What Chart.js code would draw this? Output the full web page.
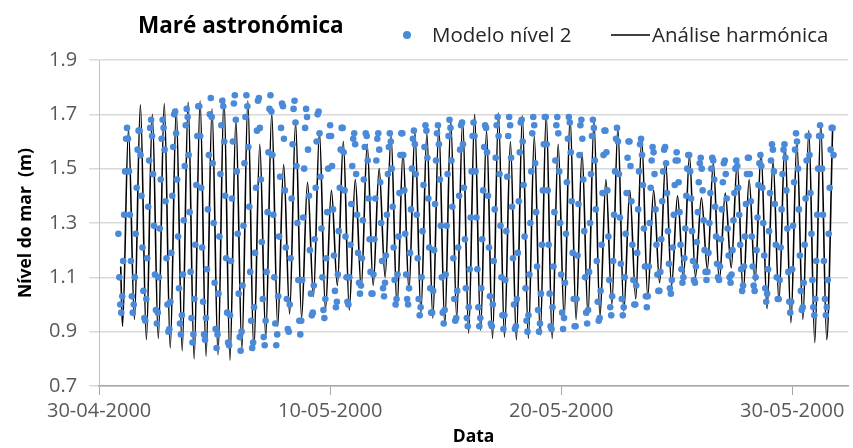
<!DOCTYPE html>
<html>
<head>
<meta charset="utf-8">
<title>Maré astronómica</title>
<script src="https://cdn.jsdelivr.net/npm/chart.js@4.4.1/dist/chart.umd.min.js"></script>
<style>
  html, body { margin: 0; padding: 0; background: #fff; }
  #wrap { width: 853px; height: 448px; }
</style>
</head>
<body>
<div id="wrap"><canvas id="tideChart" width="853" height="448"></canvas></div>
<script>
// Texts
const chartTitle = 'Maré astronómica';
const seriesNames = ['Modelo nível 2', 'Análise harmónica'];
const xTitle = 'Data';
const yTitle = 'Nível do mar  (m)';

// Axis ticks (x in hours since 30-04-2000 00:00)
const dateTickHours = [0, 240, 480, 720];
const dateTickLabels = ['30-04-2000', '10-05-2000', '20-05-2000', '30-05-2000'];
const levelTicks = [0.7, 0.9, 1.1, 1.3, 1.5, 1.7, 1.9];

// Modelo nível 2: hourly levels (m), first value at hour 20, one row per day
const modelStartHour = 20;
const modelLevels = [
  1.26, 1.10, 1.00, 0.97, 1.03, 1.16, 1.33, 1.49, 1.61, 1.65, 1.61, 1.49, 1.33, 1.16, 1.03, 0.97, 1.00, 1.10, 1.26, 1.43, 1.57, 1.64, 1.64, 1.55,
  1.40, 1.21, 1.05, 0.95, 0.94, 1.02, 1.17, 1.36, 1.53, 1.65, 1.68, 1.62, 1.48, 1.29, 1.11, 0.98, 0.93, 0.97, 1.10, 1.28, 1.46, 1.61, 1.68, 1.65,
  1.57, 1.38, 1.17, 1.00, 0.90, 0.91, 1.01, 1.19, 1.40, 1.58, 1.70, 1.71, 1.63, 1.46, 1.25, 1.06, 0.93, 0.89, 0.96, 1.11, 1.31, 1.51, 1.66, 1.72,
  1.69, 1.55, 1.34, 1.12, 0.95, 0.86, 0.89, 1.02, 1.22, 1.44, 1.62, 1.73, 1.73, 1.62, 1.43, 1.21, 1.01, 0.89, 0.87, 0.95, 1.13, 1.35, 1.55, 1.70,
  1.76, 1.69, 1.52, 1.30, 1.08, 0.91, 0.84, 0.89, 1.04, 1.25, 1.48, 1.66, 1.75, 1.73, 1.60, 1.40, 1.17, 0.97, 0.86, 0.85, 0.96, 1.16, 1.39, 1.60,
  1.74, 1.77, 1.68, 1.49, 1.26, 1.04, 0.88, 0.83, 0.90, 1.07, 1.29, 1.52, 1.69, 1.77, 1.73, 1.58, 1.36, 1.12, 0.94, 0.84, 0.86, 0.99, 1.19, 1.43,
  1.64, 1.75, 1.76, 1.65, 1.46, 1.23, 1.02, 0.88, 0.85, 0.94, 1.12, 1.34, 1.56, 1.72, 1.77, 1.71, 1.55, 1.33, 1.10, 0.93, 0.85, 0.89, 1.03, 1.25,
  1.47, 1.65, 1.74, 1.73, 1.61, 1.42, 1.21, 1.02, 0.91, 0.90, 1.00, 1.17, 1.39, 1.59, 1.72, 1.75, 1.67, 1.51, 1.30, 1.09, 0.94, 0.89, 0.94, 1.09,
  1.32, 1.50, 1.65, 1.72, 1.69, 1.57, 1.40, 1.20, 1.04, 0.96, 0.97, 1.07, 1.24, 1.43, 1.60, 1.70, 1.71, 1.63, 1.47, 1.28, 1.10, 0.98, 0.95, 1.02,
  1.17, 1.34, 1.50, 1.62, 1.66, 1.62, 1.51, 1.35, 1.18, 1.05, 0.99, 1.01, 1.11, 1.27, 1.43, 1.57, 1.65, 1.65, 1.56, 1.42, 1.25, 1.10, 1.01, 1.00,
  1.10, 1.22, 1.37, 1.51, 1.61, 1.63, 1.59, 1.48, 1.33, 1.19, 1.08, 1.04, 1.07, 1.17, 1.31, 1.46, 1.58, 1.63, 1.62, 1.53, 1.39, 1.24, 1.12, 1.04,
  1.04, 1.11, 1.24, 1.39, 1.53, 1.61, 1.63, 1.57, 1.45, 1.30, 1.16, 1.06, 1.03, 1.08, 1.18, 1.33, 1.48, 1.58, 1.63, 1.60, 1.50, 1.36, 1.21, 1.09,
  1.00, 1.02, 1.11, 1.25, 1.41, 1.55, 1.63, 1.63, 1.55, 1.42, 1.26, 1.11, 1.02, 1.00, 1.06, 1.19, 1.35, 1.50, 1.61, 1.64, 1.59, 1.48, 1.33, 1.17,
  1.02, 0.96, 0.99, 1.10, 1.27, 1.44, 1.58, 1.66, 1.64, 1.54, 1.39, 1.21, 1.06, 0.97, 0.97, 1.05, 1.20, 1.37, 1.53, 1.63, 1.66, 1.59, 1.46, 1.29,
  1.10, 0.97, 0.93, 0.98, 1.11, 1.29, 1.48, 1.62, 1.68, 1.65, 1.53, 1.36, 1.17, 1.02, 0.94, 0.95, 1.05, 1.21, 1.40, 1.57, 1.66, 1.67, 1.59, 1.43,
  1.24, 1.06, 0.95, 0.92, 0.99, 1.13, 1.32, 1.49, 1.62, 1.67, 1.62, 1.49, 1.32, 1.13, 0.99, 0.92, 0.95, 1.06, 1.24, 1.42, 1.58, 1.66, 1.65, 1.56,
  1.40, 1.21, 1.03, 0.93, 0.92, 1.00, 1.16, 1.35, 1.54, 1.66, 1.69, 1.62, 1.48, 1.29, 1.10, 0.96, 0.91, 0.96, 1.09, 1.27, 1.47, 1.62, 1.69, 1.66,
  1.54, 1.36, 1.17, 1.00, 0.91, 0.92, 1.02, 1.19, 1.38, 1.56, 1.67, 1.68, 1.60, 1.44, 1.25, 1.06, 0.94, 0.90, 0.96, 1.11, 1.30, 1.49, 1.63, 1.69,
  1.66, 1.52, 1.34, 1.14, 0.98, 0.90, 0.93, 1.04, 1.22, 1.42, 1.59, 1.69, 1.69, 1.59, 1.42, 1.22, 1.04, 0.92, 0.91, 0.99, 1.14, 1.34, 1.53, 1.66,
  1.69, 1.63, 1.49, 1.30, 1.11, 0.97, 0.91, 0.95, 1.08, 1.26, 1.45, 1.61, 1.69, 1.67, 1.56, 1.38, 1.19, 1.02, 0.92, 0.92, 1.02, 1.18, 1.37, 1.55,
  1.66, 1.68, 1.61, 1.46, 1.27, 1.10, 0.97, 0.93, 0.98, 1.12, 1.30, 1.48, 1.62, 1.68, 1.65, 1.53, 1.35, 1.16, 1.01, 0.94, 0.95, 1.05, 1.22, 1.41,
  1.55, 1.64, 1.64, 1.56, 1.42, 1.25, 1.09, 0.99, 0.96, 1.03, 1.16, 1.33, 1.49, 1.61, 1.65, 1.60, 1.48, 1.32, 1.15, 1.02, 0.96, 0.99, 1.10, 1.26,
  1.41, 1.54, 1.60, 1.60, 1.51, 1.38, 1.22, 1.09, 1.00, 1.00, 1.07, 1.19, 1.35, 1.49, 1.59, 1.61, 1.55, 1.44, 1.28, 1.14, 1.03, 0.99, 1.03, 1.14,
  1.30, 1.43, 1.53, 1.58, 1.56, 1.48, 1.35, 1.22, 1.11, 1.05, 1.05, 1.12, 1.24, 1.38, 1.49, 1.57, 1.58, 1.52, 1.41, 1.27, 1.15, 1.06, 1.04, 1.09,
  1.21, 1.33, 1.44, 1.53, 1.56, 1.53, 1.45, 1.34, 1.22, 1.13, 1.08, 1.10, 1.17, 1.28, 1.40, 1.50, 1.55, 1.55, 1.49, 1.39, 1.27, 1.16, 1.09, 1.08,
  1.14, 1.23, 1.34, 1.45, 1.52, 1.54, 1.50, 1.42, 1.31, 1.20, 1.12, 1.09, 1.12, 1.19, 1.30, 1.41, 1.50, 1.54, 1.53, 1.46, 1.36, 1.25, 1.15, 1.10,
  1.09, 1.14, 1.24, 1.35, 1.45, 1.52, 1.53, 1.48, 1.39, 1.28, 1.18, 1.10, 1.08, 1.11, 1.20, 1.31, 1.41, 1.50, 1.53, 1.51, 1.43, 1.33, 1.22, 1.13,
  1.05, 1.07, 1.14, 1.25, 1.37, 1.48, 1.54, 1.54, 1.48, 1.38, 1.25, 1.14, 1.07, 1.05, 1.10, 1.20, 1.32, 1.44, 1.52, 1.55, 1.51, 1.43, 1.30, 1.18,
  1.06, 1.01, 1.04, 1.13, 1.27, 1.41, 1.53, 1.59, 1.57, 1.49, 1.37, 1.22, 1.10, 1.02, 1.02, 1.09, 1.21, 1.35, 1.48, 1.57, 1.59, 1.54, 1.42, 1.28,
  1.12, 1.01, 0.97, 1.01, 1.13, 1.29, 1.45, 1.57, 1.63, 1.60, 1.50, 1.35, 1.18, 1.05, 0.98, 0.99, 1.08, 1.22, 1.39, 1.53, 1.62, 1.62, 1.55, 1.41,
  1.26, 1.09, 0.99, 0.96, 1.02, 1.16, 1.33, 1.50, 1.62, 1.66, 1.62, 1.50, 1.33, 1.16, 1.02, 0.96, 0.99, 1.09, 1.26, 1.43, 1.57, 1.65, 1.65, 1.55
];

// Análise harmónica: start of the curve, then alternating low / high waters (hours, m)
const harmHours = [
  22.4,
  24.3, 30.5, 36.7, 42.9, 49.1, 55.3, 61.5, 67.7, 73.9, 80.1, 86.3, 92.5, 98.7, 104.9, 111.1, 117.3,
  123.5, 129.7, 135.9, 142.1, 148.3, 154.5, 160.7, 166.9, 173.1, 179.3, 185.5, 191.7, 197.9, 204.1,
  210.3, 216.5, 222.7, 228.9, 235.1, 241.3, 247.5, 253.7, 259.9, 266.1, 272.3, 278.5, 284.7, 290.9,
  297.1, 303.3, 309.5, 315.7, 321.9, 328.1, 334.3, 340.5, 346.7, 352.9, 359.1, 365.3, 371.5, 377.7,
  383.9, 390.1, 396.3, 402.5, 408.7, 414.9, 421.1, 427.3, 433.5, 439.7, 445.9, 452.1, 458.3, 464.5,
  470.7, 476.9, 483.1, 489.3, 495.5, 501.7, 507.9, 514.1, 520.3, 526.5, 532.7, 538.9, 545.1, 551.3,
  557.5, 563.7, 569.9, 576.1, 582.3, 588.5, 594.7, 600.9, 607.1, 613.3, 619.5, 625.7, 631.9, 638.1,
  644.3, 650.5, 656.7, 662.9, 669.1, 675.3, 681.5, 687.7, 693.9, 700.1, 706.3, 712.5, 718.7, 724.9,
  731.1, 737.3, 743.5, 749.7, 755.9, 762.1
];
const harmLevels = [
  1.14,
  0.92, 1.645, 0.945, 1.735, 0.87, 1.70, 0.875, 1.74, 0.84, 1.72, 0.83, 1.745, 0.80, 1.75, 0.81, 1.72,
  0.815, 1.76, 0.795, 1.68, 0.835, 1.75, 0.83, 1.59, 0.88, 1.705, 0.92, 1.515, 0.965, 1.67,
  0.95, 1.45, 1.03, 1.635, 0.98, 1.42, 1.07, 1.60, 0.98, 1.46, 1.06, 1.59, 1.07, 1.50,
  1.10, 1.62, 0.99, 1.56, 1.05, 1.635, 0.97, 1.63, 0.95, 1.655, 0.925, 1.675, 0.95, 1.68,
  0.895, 1.70, 0.905, 1.64, 0.875, 1.705, 0.88, 1.60, 0.87, 1.695, 0.875, 1.62, 0.888, 1.70,
  0.875, 1.59, 0.95, 1.69, 0.945, 1.56, 0.96, 1.675, 0.955, 1.46, 1.00, 1.65, 0.975, 1.42,
  1.02, 1.61, 1.03, 1.42, 1.08, 1.53, 1.068, 1.40, 1.10, 1.547, 1.10, 1.393, 1.13, 1.522,
  1.085, 1.41, 1.135, 1.522, 1.04, 1.46, 1.085, 1.56, 0.985, 1.53, 1.013, 1.596, 0.933, 1.60,
  0.945, 1.64, 0.86, 1.663, 0.87, 1.657
];

const dotColor = '#4a8ad8';
const fontFamily = "'Open Sans', 'DejaVu Sans', sans-serif";

Chart.defaults.font.family = fontFamily;

// Title and legend sit on one row above the plot
const headerPlugin = {
  id: 'header',
  afterDraw(chart) {
    const ctx = chart.ctx;
    ctx.save();
    ctx.textBaseline = 'alphabetic';
    ctx.fillStyle = '#000';
    ctx.font = 'bold 22.5px ' + fontFamily;
    ctx.fillText(chartTitle, 138, 33);

    ctx.fillStyle = dotColor;
    ctx.beginPath();
    ctx.arc(407, 35, 4, 0, Math.PI * 2);
    ctx.fill();

    ctx.font = '20.5px ' + fontFamily;
    ctx.fillStyle = '#262626';
    ctx.fillText(seriesNames[0], 432, 42);

    ctx.strokeStyle = '#000';
    ctx.lineWidth = 1.6;
    ctx.beginPath();
    ctx.moveTo(611, 35);
    ctx.lineTo(650, 35);
    ctx.stroke();

    ctx.fillText(seriesNames[1], 652, 42);
    ctx.restore();
  }
};

const modelPoints = modelLevels.map((v, i) => ({ x: modelStartHour + i, y: v }));
const harmPoints = harmHours.map((h, i) => ({ x: h, y: harmLevels[i] }));

new Chart(document.getElementById('tideChart'), {
  type: 'line',
  data: {
    datasets: [
      {
        label: seriesNames[0],
        data: modelPoints,
        showLine: false,
        pointRadius: 3.3,
        pointHoverRadius: 3.3,
        pointBackgroundColor: dotColor,
        pointBorderWidth: 0
      },
      {
        label: seriesNames[1],
        data: harmPoints,
        borderColor: '#000',
        borderWidth: 1.6,
        pointRadius: 0,
        fill: false,
        cubicInterpolationMode: 'monotone'
      }
    ]
  },
  options: {
    responsive: false,
    animation: false,
    layout: { padding: { top: 60, left: 12, right: 5, bottom: 0 } },
    plugins: {
      legend: { display: false },
      title: { display: false },
      tooltip: { enabled: false }
    },
    scales: {
      x: {
        type: 'linear',
        min: 0,
        max: 778,
        afterBuildTicks: scale => { scale.ticks = dateTickHours.map(v => ({ value: v })); },
        ticks: {
          callback: (v, i) => dateTickLabels[i],
          color: '#595959',
          font: { size: 20 },
          padding: 4,
          maxRotation: 0,
          autoSkip: false
        },
        grid: { drawOnChartArea: false, drawTicks: true, tickLength: 9, color: '#a6a6a6' },
        border: { color: '#a6a6a6', width: 1.5 },
        title: {
          display: true,
          text: xTitle,
          color: '#000',
          font: { size: 17.5, weight: 'bold' },
          padding: { top: 0, bottom: 0 }
        }
      },
      y: {
        min: 0.7,
        max: 1.9,
        afterBuildTicks: scale => { scale.ticks = levelTicks.map(v => ({ value: v })); },
        ticks: {
          callback: v => v.toFixed(1),
          color: '#595959',
          font: { size: 20 },
          padding: 12
        },
        grid: { color: '#d9d9d9', lineWidth: 1.5, tickLength: 10 },
        border: { color: '#bfbfbf', width: 1 },
        title: {
          display: true,
          text: yTitle,
          color: '#000',
          font: { size: 17.5, weight: 'bold' },
          padding: { top: 4, bottom: 0 }
        }
      }
    }
  },
  plugins: [headerPlugin]
});
</script>
</body>
</html>
